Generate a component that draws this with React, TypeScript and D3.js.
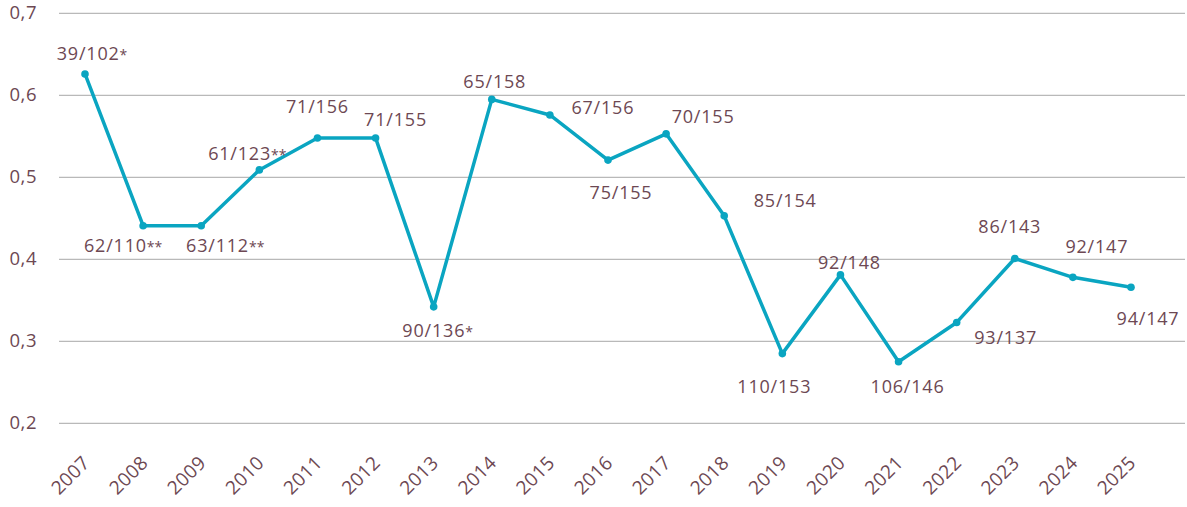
import * as d3 from 'd3';

const years = [2007, 2008, 2009, 2010, 2011, 2012, 2013, 2014, 2015, 2016, 2017, 2018, 2019, 2020, 2021, 2022, 2023, 2024, 2025];
const values = [0.626, 0.441, 0.441, 0.509, 0.548, 0.548, 0.342, 0.595, 0.576, 0.521, 0.553, 0.453, 0.285, 0.381, 0.275, 0.323, 0.401, 0.378, 0.366];
const labels = [
  '39/102*', '62/110**', '63/112**', '61/123**', '71/156', '71/155', '90/136*', '65/158', '67/156', '75/155',
  '70/155', '85/154', '110/153', '92/148', '106/146', '93/137', '86/143', '92/147', '94/147',
];
// label placement relative to its point: [dx, dy to baseline]
const labelOffsets: [number, number][] = [
  [7, -14], [-20, 26], [24, 26], [-12, -10], [0, -25], [20, -12], [4, 30], [3, -11], [53, -1], [13, 39],
  [37, -11], [61, -9], [-8, 39], [9, -6], [9, 31], [49, 22], [-5, -25], [24, -24], [17, 38],
];
const yTicks = [0.2, 0.3, 0.4, 0.5, 0.6, 0.7];

const W = 1187;
const H = 507;
const LINE = '#0aa5c1';
const TEXT = '#6d4853';
const GRID = '#b9b9b9';
const FONT = '"Open Sans", Lato, sans-serif';

export default function App() {
  const x = d3.scaleLinear().domain([2007, 2025]).range([85, 1131]);
  const y = d3.scaleLinear().domain([0.2, 0.7]).range([423.3, 13.3]);
  const pts = years.map((yr, i) => ({ yr, v: values[i], label: labels[i], off: labelOffsets[i] }));
  const line = d3
    .line<{ yr: number; v: number }>()
    .x((d) => x(d.yr))
    .y((d) => y(d.v));

  return (
    <svg
      width={W}
      height={H}
      style={{ position: 'absolute', left: 0, top: 0, background: '#fff' }}
      fontFamily={FONT}
    >
      {/* grid + y ticks */}
      {yTicks.map((t) => (
        <g key={t}>
          <line x1={59} x2={1185} y1={y(t)} y2={y(t)} stroke={GRID} strokeWidth={1.2} />
          <text x={37} y={y(t) + 6} textAnchor="end" fontSize={18.5} fill={TEXT} letterSpacing={0.5}>
            {d3.format('.1f')(t).replace('.', ',')}
          </text>
        </g>
      ))}

      {/* x labels */}
      {years.map((yr) => (
        <text
          key={yr}
          transform={`translate(${x(yr) + 6},${464}) rotate(-45)`}
          textAnchor="end"
          fontSize={19}
          fill={TEXT}
          letterSpacing={0.4}
        >
          {yr}
        </text>
      ))}

      {/* series */}
      <path d={line(pts) ?? ''} fill="none" stroke={LINE} strokeWidth={3.5} strokeLinejoin="round" />
      {pts.map((d) => (
        <circle key={d.yr} cx={x(d.yr)} cy={y(d.v)} r={3.8} fill={LINE} />
      ))}

      {/* data labels, asterisks drawn smaller */}
      {pts.map((d) => {
        const main = d.label.replace(/\*+$/, '');
        const stars = d.label.slice(main.length);
        return (
          <text
            key={`l${d.yr}`}
            x={x(d.yr) + d.off[0]}
            y={y(d.v) + d.off[1]}
            textAnchor="middle"
            fontSize={18}
            fill={TEXT}
            letterSpacing={0.8}
          >
            {main}
            {stars && (
              <tspan fontSize={14} letterSpacing={0}>
                {stars}
              </tspan>
            )}
          </text>
        );
      })}
    </svg>
  );
}
